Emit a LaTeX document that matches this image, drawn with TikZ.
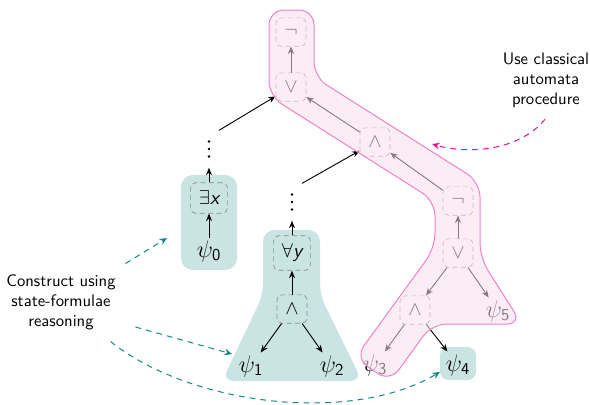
\documentclass[tikz,border=0pt]{standalone}
\usepackage{amsmath}
\usetikzlibrary{arrows.meta}
\definecolor{tealzone}{RGB}{201,228,227}
\definecolor{pinkfill}{RGB}{250,222,237}
\definecolor{pinkline}{RGB}{240,130,200}
\definecolor{tealarrow}{RGB}{20,135,135}
\definecolor{magarrow}{RGB}{230,20,140}
\newcommand{\sfvar}[1]{\textsf{\slshape #1}}
\begin{document}
\begin{tikzpicture}[x=0.6pt,y=-0.6pt,
  op/.style={draw=black!45, dash pattern=on 3pt off 2pt, rounded corners=3pt,
    minimum width=17pt, minimum height=17pt, inner sep=5pt, font=\large},
  leaf/.style={inner sep=1.5pt, font=\Large},
  dotsnode/.style={inner sep=0pt, minimum width=3pt, minimum height=22pt},
  dot/.style={fill=black, circle, inner sep=0pt, minimum size=1.6pt},
  arr/.style={-{Stealth[length=4.5pt,width=3.6pt]}, line width=0.55pt},
  note/.style={align=center, font=\sffamily},
  tealnote/.style={draw=tealarrow, dash pattern=on 3.5pt off 3pt, line width=0.6pt,
    -{Stealth[length=4.5pt,width=4pt]}},
  magnote/.style={draw=magarrow, dash pattern=on 3.5pt off 3pt, line width=0.6pt,
    -{Stealth[length=4.5pt,width=4pt]}},
  tealblob/.style={fill=tealzone},
  pinkblob/.style={fill=pinkfill, fill opacity=0.55, draw=pinkline, line width=0.6pt,
    rounded corners=9pt}
]
\useasboundingbox (0,0) rectangle (590,404);

% state-formula regions
\path[tealblob, rounded corners=7pt] (181,175) rectangle (237,270);
\path[tealblob, rounded corners=7pt]
  (263,230) -- (320,230) -- (320,295) -- (362,381) -- (222,381) -- (263,295) -- cycle;
\path[tealblob, rounded corners=5pt] (440,347) rectangle (476,380);

% formula tree
\node[op] (neg1) at (291,32) {$\neg$};
\node[op] (or1)  at (291,87) {$\vee$};
\node[op] (and1) at (375,142) {$\wedge$};
\node[op] (neg2) at (458,201) {$\neg$};
\node[op] (or2)  at (458,253) {$\vee$};
\node[op] (and2) at (415,310) {$\wedge$};
\node[leaf] (psi3) at (375,365) {$\psi_{\mathsf{3}}$};
\node[leaf] (psi4) at (458,365) {$\psi_{\mathsf{4}}$};
\node[leaf] (psi5) at (498,311) {$\psi_{\mathsf{5}}$};

\node[op] (ex)   at (209,198) {$\exists\sfvar{x}$};
\node[leaf] (psi0) at (209,251) {$\psi_{\mathsf{0}}$};
\node[dotsnode] (dots1) at (209,149) {};

\node[op] (all)  at (292,253) {$\forall\sfvar{y}$};
\node[op] (and3) at (292,309) {$\wedge$};
\node[leaf] (psi1) at (251,366) {$\psi_{\mathsf{1}}$};
\node[leaf] (psi2) at (332,366) {$\psi_{\mathsf{2}}$};
\node[dotsnode] (dots2) at (292,202) {};

% vertical ellipses standing for omitted parts of the formula
\foreach \d in {dots1,dots2}
  \foreach \k in {-1,0,1}
    \node[dot] at ([yshift=\k*4.5pt]\d.center) {};

% tree edges
\draw[arr] (psi0) -- (ex);
\draw[arr] (ex) -- (dots1);
\draw[arr] ([xshift=6pt]dots1.north) -- (or1);
\draw[arr] (and3) -- (all);
\draw[arr] (all) -- (dots2);
\draw[arr] ([xshift=6pt]dots2.north) -- (and1);
\draw[arr] (and3) -- (psi1);
\draw[arr] (and3) -- (psi2);
\draw[arr] (or1) -- (neg1);
\draw[arr] (and1) -- (or1);
\draw[arr] (neg2) -- (and1);
\draw[arr] (or2) -- (neg2);
\draw[arr] (or2) -- (and2);
\draw[arr] (or2) -- (psi5);
\draw[arr] (and2) -- (psi3);
\draw[arr] (and2) -- (psi4);

% path-formula region
\path[pinkblob]
  (269,10) -- (314,10) -- (314,77) -- (480,182) -- (480,258) -- (522,324)
  -- (432,324) -- (390,382) -- (355,358) -- (435,248) -- (435,201) -- (269,96) -- cycle;

% annotations
\node[note] (state) at (61,302) {Construct using\\state-formulae\\reasoning};
\node[note] (auto) at (546,80) {Use classical\\automata\\procedure};

\coordinate (tExists) at (167,238);
\coordinate (tPsiOne) at (232,354);
\coordinate (tPsiFour) at (440,372);
\coordinate (tAuto) at (432,144);

\draw[tealnote] (state.north east) ++(4,-5) -- (tExists);
\draw[tealnote] (state.east) ++(14,25) -- (tPsiOne);
\draw[tealnote] (state.south east) ++(-11,6) .. controls (190,405) and (350,425) .. (tPsiFour);
\draw[magnote] (auto.south) ++(-1,6) .. controls (520,150) and (470,155) .. (tAuto);
\end{tikzpicture}
\end{document}
